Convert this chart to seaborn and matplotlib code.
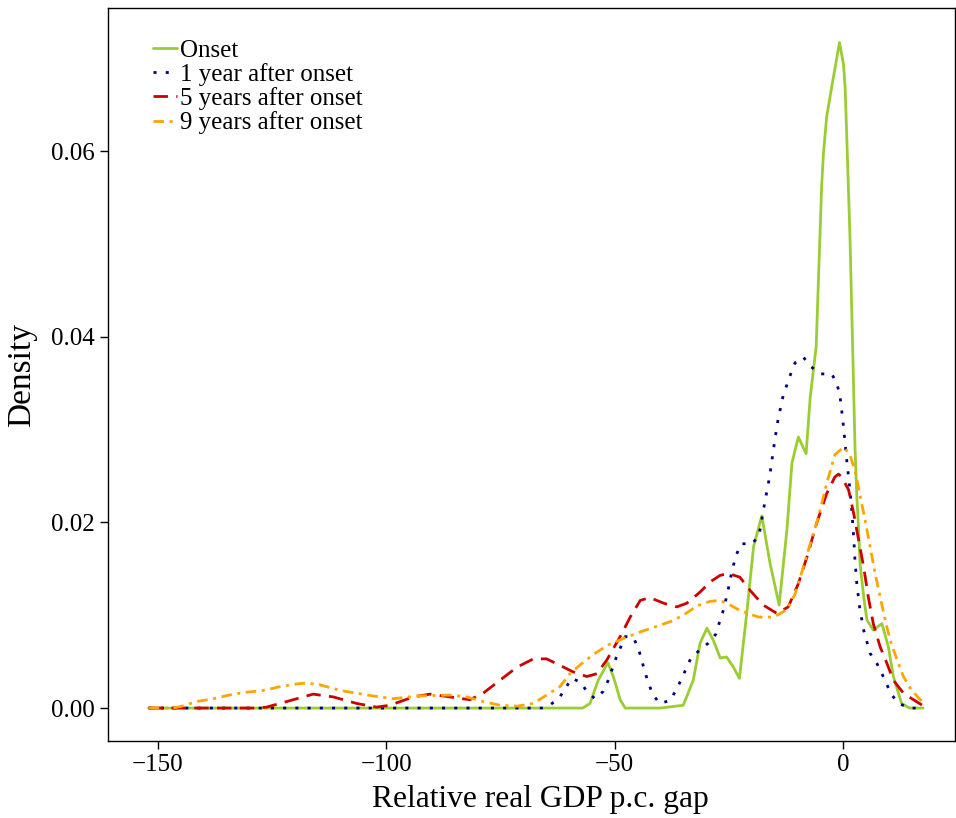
import matplotlib
matplotlib.use("Agg")
import matplotlib.pyplot as plt
import seaborn as sns
import pandas as pd

# values (gap, density)
onset_x = [-152, -57, -55.4, -53.6, -51.5, -50.3, -48.8, -47.7, -40, -35, -32.8, -31.3, -29.8,
           -28.4, -26.9, -25.5, -24, -22.7, -21.1, -19.6, -17.8, -16, -14, -12.3, -11.2, -9.8,
           -8.1, -7.2, -5.9, -5.2, -4.7, -4.3, -3.6, -2.5, -1.5, -0.8, 0.07, 0.44, 0.8, 1.5, 2.1,
           2.6, 3.0, 3.4, 3.7, 4.5, 5.2, 6.6, 8.5, 9.9, 11.0, 12.8, 14.5, 17.5]
onset_y = [0, 0, 0.0005, 0.003, 0.0049, 0.0034, 0.0009, 0, 0, 0.0003, 0.003, 0.007, 0.0086,
           0.0073, 0.0054, 0.0055, 0.0044, 0.0032, 0.0102, 0.0174, 0.0207, 0.0156, 0.0111, 0.0192,
           0.0264, 0.0292, 0.0274, 0.0335, 0.0389, 0.049, 0.0562, 0.0598, 0.0637, 0.0669, 0.0697,
           0.0717, 0.0694, 0.0669, 0.0615, 0.0508, 0.0386, 0.0281, 0.0228, 0.0192, 0.0156, 0.012,
           0.0095, 0.0084, 0.0091, 0.0066, 0.0034, 0.0005, 0, 0]

year1_x = [-152, -66, -64.2, -62, -59.4, -57.5, -56.1, -54.3, -52.5, -51.4, -49.7, -47.7, -45.9,
           -44.8, -44.1, -43.4, -42.6, -41.7, -40.2, -37.9, -36.6, -35.5, -34.4, -33.3, -31.5,
           -29.5, -27.8, -27.1, -26.3, -25.7, -25.1, -24.6, -24, -23.3, -22.3, -19.9, -18.4,
           -17.5, -16.1, -15, -14.2, -13.1, -11.4, -10.5, -8.7, -7.1, -5, -2.5, -1.4, -0.7, -0.1,
           0.4, 0.9, 1.5, 1.9, 2.3, 2.6, 3.0, 3.6, 4.5, 5.9, 7.4, 8.5, 9.6, 10.7, 12.1, 14.7, 17.5]
year1_y = [0, 0, 0.0003, 0.0012, 0.0032, 0.0028, 0.0018, 0.001, 0.0018, 0.003, 0.0054, 0.0077,
           0.0076, 0.0064, 0.0052, 0.0039, 0.0027, 0.0015, 0.0005, 0.0008, 0.0019, 0.003, 0.0042,
           0.0054, 0.0062, 0.007, 0.008, 0.0092, 0.0104, 0.0116, 0.0129, 0.0141, 0.0154, 0.0166,
           0.0177, 0.0177, 0.0186, 0.0212, 0.0249, 0.0287, 0.0312, 0.0337, 0.0361, 0.0372, 0.0378,
           0.0368, 0.036, 0.036, 0.035, 0.0337, 0.0312, 0.0287, 0.0262, 0.0235, 0.0213, 0.0185,
           0.0159, 0.0134, 0.0109, 0.0084, 0.0059, 0.0048, 0.0037, 0.0025, 0.0014, 0.0005, 0, 0]

year5_x = [-152, -128.4, -126.2, -121.8, -116, -111.6, -106.5, -102.1, -99.2, -94.1, -90.4, -86.1,
           -81.7, -78.8, -75.1, -71.4, -67.8, -64.9, -62, -59.1, -56.1, -53.9, -51.7, -48.8, -46.6,
           -44.4, -42.3, -39.3, -36.4, -34.2, -31.3, -29.1, -26.9, -25.1, -22.6, -20.4, -17.5,
           -14.5, -12, -9.8, -7.9, -5.8, -3.6, -1.8, -1.0, -0.3, 1.2, 2.3, 3.4, 4.5, 5.5, 6.6, 8.1,
           9.6, 11, 13.2, 15.4, 18]
year5_y = [0, 0, 0.0001, 0.0007, 0.0015, 0.0012, 0.0005, 0.0001, 0.0003, 0.0012, 0.0015, 0.0012,
           0.0009, 0.0016, 0.003, 0.0044, 0.0053, 0.0053, 0.0046, 0.0039, 0.0034, 0.0037, 0.0052,
           0.0077, 0.0098, 0.0116, 0.0119, 0.0113, 0.0109, 0.0113, 0.0125, 0.0136, 0.0143, 0.0145,
           0.0141, 0.0127, 0.0111, 0.0102, 0.0109, 0.0134, 0.0163, 0.0199, 0.0231, 0.0249, 0.0252,
           0.0249, 0.0235, 0.021, 0.0181, 0.0152, 0.012, 0.0091, 0.0066, 0.0048, 0.003, 0.0016,
           0.0009, 0.0001]

year9_x = [-152, -146.6, -144.8, -141.5, -137.9, -133.5, -130.6, -126.9, -123.3, -119.6, -117.4,
           -114.5, -110.1, -106.5, -102.8, -98.5, -93.3, -86.1, -82.4, -78.8, -75.1, -71.4, -67.8,
           -64.9, -62, -59.8, -57.2, -54.6, -51.4, -48.1, -44.4, -40.8, -37.9, -35, -32, -29.1,
           -26.9, -24.7, -22.6, -18.5, -15.2, -12.3, -10.5, -8.7, -7.2, -5.4, -3.6, -1.8, 0.1,
           1.4, 2.6, 3.7, 4.8, 5.9, 7, 8.1, 9.2, 10.3, 11.8, 13.2, 15, 16.9, 18]
year9_y = [0, 0, 0.0002, 0.0007, 0.001, 0.0015, 0.0017, 0.0019, 0.0023, 0.0026, 0.0027, 0.0025,
           0.0019, 0.0016, 0.0013, 0.001, 0.0013, 0.0014, 0.0012, 0.0007, 0.0003, 0.0002, 0.0005,
           0.0014, 0.0023, 0.0037, 0.0048, 0.0058, 0.0068, 0.0075, 0.0082, 0.0088, 0.0093, 0.01,
           0.011, 0.0115, 0.0116, 0.0111, 0.0105, 0.0098, 0.0098, 0.0106, 0.0123, 0.0152, 0.0177,
           0.0206, 0.0242, 0.0273, 0.0281, 0.0274, 0.0256, 0.0229, 0.0203, 0.0174, 0.0145, 0.012,
           0.0095, 0.0073, 0.0052, 0.0034, 0.0019, 0.0009, 0.0005]

labels = ["Onset", "1 year after onset", "5 years after onset", "9 years after onset"]
colors = ["#9ACD32", "#000080", "#CD0000", "#FFA500"]
styles = ["-", (0, (1.1, 3.3)), (0, (5.2, 3.0)), (0, (3.8, 2.0, 1.1, 2.0))]

sns.set_style("ticks")
plt.rcParams["font.family"] = ["Liberation Serif", "DejaVu Serif"]
for key in ["text.color", "axes.labelcolor", "xtick.color", "ytick.color", "axes.edgecolor"]:
    plt.rcParams[key] = "black"

fig = plt.figure(figsize=(9.56, 8.18), dpi=100)
ax = fig.add_axes([0.113, 0.094, 0.886, 0.896])

series = [(onset_x, onset_y), (year1_x, year1_y), (year5_x, year5_y), (year9_x, year9_y)]
for (xs, ys), lab, col, ls in zip(series, labels, colors, styles):
    df = pd.DataFrame({"gap": xs, "density": ys})
    sns.lineplot(data=df, x="gap", y="density", ax=ax, color=col, linestyle=ls,
                 linewidth=2.0, label=lab, errorbar=None, solid_joinstyle="round")

ax.set_xlim(-160.9, 24.5)
ax.set_ylim(-0.00356, 0.0754)
ax.set_xticks([-150, -100, -50, 0])
ax.set_yticks([0, 0.02, 0.04, 0.06])
ax.set_yticklabels(["0.00", "0.02", "0.04", "0.06"])
ax.tick_params(axis="both", labelsize=18, length=6, width=1, direction="out",
               color="black", labelcolor="black")
ax.set_xlabel("Relative real GDP p.c. gap", fontsize=22.7, labelpad=6)
ax.xaxis.label.set_x(0.511)
ax.set_ylabel("Density", fontsize=24, labelpad=10)
for sp in ax.spines.values():
    sp.set_visible(True)
    sp.set_color("black")
    sp.set_linewidth(1)

ax.legend(loc="upper left", bbox_to_anchor=(0.03, 0.985), frameon=False, fontsize=18,
          handlelength=0.95, handletextpad=0.1, labelspacing=0.05, borderpad=0.3)

fig.savefig("out.png", dpi=100)
